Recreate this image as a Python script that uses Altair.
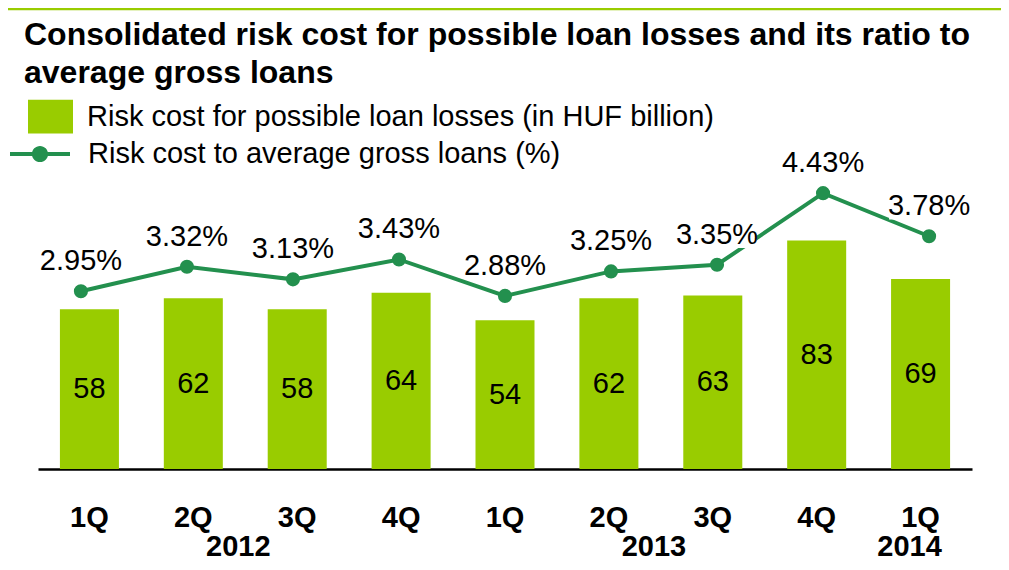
import altair as alt
import pandas as pd

# ---- data ----
periods = ["1Q 2012", "2Q 2012", "3Q 2012", "4Q 2012",
           "1Q 2013", "2Q 2013", "3Q 2013", "4Q 2013", "1Q 2014"]
risk_cost = [58, 62, 58, 64, 54, 62, 63, 83, 69]          # HUF billion
ratio_pct = [2.95, 3.32, 3.13, 3.43, 2.88, 3.25, 3.35, 4.43, 3.78]  # %
years_mid = ["2012", "2013"]
years_mid_anchor = ["2Q 2012", "2Q 2013"]
years_end = ["2014"]
years_end_anchor = ["1Q 2014"]

BAR_NAME = "Risk cost for possible loan losses (in HUF billion)"
LINE_NAME = "Risk cost to average gross loans (%)"
TITLE = ["Consolidated risk cost for possible loan losses and its ratio to",
         "average gross loans"]

LIME = "#99CC00"
DGREEN = "#23904E"
FONT = "Liberation Sans"

df = pd.DataFrame({"period": periods, "cost": risk_cost, "pct": ratio_pct,
                   "bar_s": [BAR_NAME] * len(periods),
                   "line_s": [LINE_NAME] * len(periods)})
df_ymid = pd.DataFrame({"period": years_mid_anchor, "year": years_mid})
df_yend = pd.DataFrame({"period": years_end_anchor, "year": years_end})

W, H = 934, 309

x_bar = alt.X("period:N", sort=periods, title=None,
              scale=alt.Scale(paddingInner=0.432, paddingOuter=0.211),
              axis=alt.Axis(labelExpr="split(datum.label, ' ')[0]",
                            labelFontSize=29, labelFontWeight="bold",
                            labelColor="black", labelFont=FONT,
                            domainColor="black", domainWidth=2.5,
                            ticks=False, grid=False, labelAngle=0,
                            labelPadding=48, labelBaseline="middle"))
y_bar_scale = alt.Scale(domain=[0, 112.2], nice=False, zero=True)

bars = alt.Chart(df).mark_bar().encode(
    x=x_bar,
    y=alt.Y("cost:Q", scale=y_bar_scale, axis=None),
    color=alt.Color("bar_s:N", scale=alt.Scale(range=[LIME]),
                    legend=alt.Legend(title=None, orient="none",
                                      legendX=-10, legendY=-66,
                                      symbolType="M-1,-0.75H1V0.75H-1Z",
                                      symbolSize=2025, symbolStrokeWidth=0,
                                      symbolOpacity=1, symbolFillColor=LIME,
                                      labelFontSize=29, labelFont=FONT,
                                      labelColor="black", labelOffset=14,
                                      labelLimit=0, padding=0)),
)

bar_labels = alt.Chart(df).transform_calculate(
    mid="datum.cost / 2"
).mark_text(fontSize=29, font=FONT, color="black", baseline="middle").encode(
    x=x_bar,
    y=alt.Y("mid:Q", scale=y_bar_scale, axis=None),
    text=alt.Text("cost:Q"),
)

year_mid = alt.Chart(df_ymid).mark_text(
    fontSize=29, fontWeight="bold", font=FONT, color="black",
    baseline="middle", dx=45
).encode(x=x_bar, y=alt.value(H + 78), text="year:N")

year_end = alt.Chart(df_yend).mark_text(
    fontSize=29, fontWeight="bold", font=FONT, color="black",
    baseline="middle", dx=-11
).encode(x=x_bar, y=alt.value(H + 78), text="year:N")

bar_part = alt.layer(bars, bar_labels, year_mid, year_end)

x_line = alt.X("period:N", sort=periods, title=None, axis=None,
               scale=alt.Scale(type="point", padding=0.405))
y_line = alt.Y("pct:Q", axis=None,
               scale=alt.Scale(domain=[0.27, 4.93], nice=False, zero=False))

line = alt.Chart(df).mark_line(color=DGREEN, strokeWidth=4).encode(
    x=x_line, y=y_line)

points = alt.Chart(df).mark_circle(size=200, opacity=1).encode(
    x=x_line, y=y_line,
    color=alt.Color("line_s:N", scale=alt.Scale(range=[DGREEN]),
                    legend=alt.Legend(title=None, orient="none",
                                      legendX=-28, legendY=-36,
                                      symbolType="M-1,-0.07H1V0.07H-1Z M-0.27,0A0.27,0.27,0,1,1,0.27,0A0.27,0.27,0,1,1,-0.27,0Z",
                                      symbolSize=3600, symbolStrokeWidth=0,
                                      symbolOpacity=1, symbolFillColor=DGREEN,
                                      symbolStrokeColor=DGREEN,
                                      labelFontSize=29, labelFont=FONT,
                                      labelColor="black", labelOffset=18,
                                      labelLimit=0, padding=0)),
)

label_boxes = alt.Chart(df).mark_point(
    shape="M-1,-0.33H1V0.33H-1Z", size=6400, filled=True,
    color="white", opacity=1, strokeWidth=0, yOffset=-30
).encode(x=x_line, y=y_line)

pct_labels = alt.Chart(df).transform_calculate(
    lbl="format(datum.pct, '.2f') + '%'"
).mark_text(fontSize=29, font=FONT, color="black", baseline="middle",
            dy=-30).encode(x=x_line, y=y_line, text="lbl:N")

line_part = alt.layer(line, label_boxes, pct_labels, points)

frame_src = alt.Data(values=[{}])
top_rule = alt.Chart(frame_src).mark_rule(color=LIME, strokeWidth=2.5).encode(
    x=alt.value(-30), x2=alt.value(W + 29), y=alt.value(-151))

chart = alt.layer(bar_part, line_part, top_rule).resolve_scale(
    x="independent", y="independent", color="independent"
).properties(
    width=W, height=H,
    title=alt.Title(TITLE, anchor="start", frame="group", fontSize=32,
                    fontWeight="bold", font=FONT, color="black",
                    lineHeight=38, offset=0, dx=-14, dy=82, baseline="top"),
    autosize=alt.AutoSizeParams(type="none"),
    padding={"left": 30, "top": 152, "right": 29, "bottom": 93},
).configure(font=FONT, background="white").configure_view(stroke=None)

chart.save("out.html", embed_options={"renderer": "svg", "actions": False})
